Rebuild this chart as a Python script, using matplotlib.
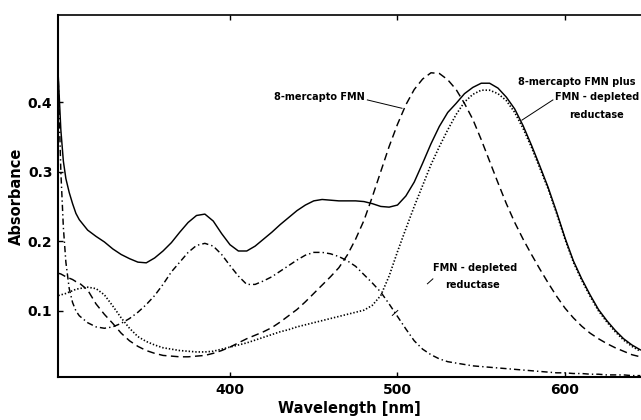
import matplotlib
matplotlib.use("Agg")
import matplotlib.pyplot as plt

plt.rcParams["font.family"] = ["DejaVu Sans"]
plt.rcParams["font.weight"] = "bold"
plt.rcParams["lines.scale_dashes"] = False

# Wavelength grid (nm)
wavelength = [297.5, 299, 300.5, 302, 304, 306, 308, 310, 315, 320, 325, 330, 335,
              340, 345, 350, 355, 360, 365, 370, 375, 380, 385, 390, 395, 400,
              405, 410, 415, 420, 425, 430, 435, 440, 445, 450, 455, 460, 465,
              470, 475, 480, 485, 490, 495, 500, 505, 510, 515, 520, 525, 530,
              535, 540, 545, 550, 555, 560, 565, 570, 575, 580, 585, 590, 595,
              600, 605, 610, 615, 620, 625, 630, 635, 640, 645]

# 8-mercapto FMN plus FMN-depleted reductase (solid)
abs_complex = [0.435, 0.360, 0.315, 0.290, 0.270, 0.254, 0.240, 0.231, 0.216, 0.207,
               0.199, 0.189, 0.181, 0.175, 0.170, 0.169, 0.176, 0.186, 0.198, 0.213,
               0.227, 0.237, 0.239, 0.229, 0.211, 0.195, 0.186, 0.186, 0.193, 0.203,
               0.213, 0.224, 0.234, 0.244, 0.252, 0.258, 0.260, 0.259, 0.258, 0.258,
               0.258, 0.257, 0.254, 0.250, 0.249, 0.252, 0.265, 0.285, 0.312, 0.340,
               0.365, 0.385, 0.398, 0.412, 0.421, 0.427, 0.427, 0.420, 0.407, 0.390,
               0.366, 0.338, 0.308, 0.277, 0.242, 0.205, 0.172, 0.146, 0.123, 0.102,
               0.086, 0.072, 0.060, 0.051, 0.044]

# 8-mercapto FMN (dashed)
abs_mercapto = [0.154, 0.153, 0.151, 0.149, 0.147, 0.145, 0.142, 0.140, 0.130, 0.110,
                0.095, 0.082, 0.068, 0.057, 0.049, 0.043, 0.039, 0.036, 0.035, 0.034,
                0.034, 0.035, 0.036, 0.039, 0.043, 0.048, 0.054, 0.060, 0.065, 0.070,
                0.076, 0.084, 0.093, 0.102, 0.113, 0.125, 0.137, 0.149, 0.162, 0.180,
                0.203, 0.230, 0.264, 0.300, 0.336, 0.368, 0.396, 0.418, 0.433, 0.442,
                0.441, 0.432, 0.418, 0.398, 0.375, 0.346, 0.315, 0.284, 0.254, 0.227,
                0.203, 0.181, 0.160, 0.140, 0.121, 0.104, 0.090, 0.078, 0.068, 0.060,
                0.053, 0.047, 0.042, 0.037, 0.034]

# FMN-depleted reductase (dash-dot)
abs_reductase = [0.430, 0.300, 0.220, 0.170, 0.132, 0.112, 0.100, 0.093, 0.083, 0.077,
                 0.075, 0.077, 0.082, 0.089, 0.098, 0.109, 0.122, 0.138, 0.156, 0.170,
                 0.184, 0.194, 0.197, 0.193, 0.181, 0.165, 0.150, 0.138, 0.138, 0.143,
                 0.149, 0.157, 0.165, 0.173, 0.180, 0.184, 0.184, 0.182, 0.178, 0.172,
                 0.164, 0.152, 0.140, 0.127, 0.110, 0.092, 0.074, 0.057, 0.045, 0.037,
                 0.031, 0.027, 0.025, 0.023, 0.021, 0.020, 0.019, 0.018, 0.017, 0.016,
                 0.015, 0.014, 0.013, 0.012, 0.011, 0.011, 0.010, 0.010, 0.009, 0.009,
                 0.008, 0.008, 0.008, 0.007, 0.007]

# Unlabelled dotted spectrum
abs_dotted = [0.122, 0.123, 0.124, 0.125, 0.127, 0.129, 0.131, 0.132, 0.134, 0.132,
              0.123, 0.107, 0.090, 0.075, 0.063, 0.056, 0.051, 0.047, 0.045, 0.043,
              0.042, 0.041, 0.041, 0.042, 0.045, 0.048, 0.051, 0.054, 0.058, 0.062,
              0.066, 0.070, 0.073, 0.077, 0.080, 0.083, 0.086, 0.089, 0.092, 0.095,
              0.098, 0.101, 0.108, 0.122, 0.150, 0.185, 0.218, 0.250, 0.280, 0.310,
              0.336, 0.360, 0.382, 0.400, 0.411, 0.417, 0.417, 0.412, 0.402, 0.385,
              0.362, 0.335, 0.305, 0.275, 0.240, 0.203, 0.170, 0.144, 0.121, 0.100,
              0.084, 0.070, 0.058, 0.049, 0.042]

x_ticks = [400, 500, 600]
y_ticks = [0.1, 0.2, 0.3, 0.4]

fig = plt.figure(figsize=(6.41, 4.20), dpi=100)
ax = fig.add_axes([58 / 641, 43 / 420, 1 - 58 / 641, 362 / 420])

lw = 1.05
ax.plot(wavelength, abs_complex, color="black", lw=lw, linestyle="-")
ax.plot(wavelength, abs_mercapto, color="black", lw=lw, dashes=(5.5, 3.2))
ax.plot(wavelength, abs_reductase, color="black", lw=lw, dashes=(4.5, 2.2, 1.0, 2.2))
ax.plot(wavelength, abs_dotted, color="black", lw=1.2, dashes=(1.0, 1.4))

# Leader lines from labels to curves
ax.plot([482.0, 502.7], [0.403, 0.391], color="black", lw=0.7)
ax.plot([574.3, 592.8], [0.374, 0.403], color="black", lw=0.7)
ax.plot([496.7, 523.0], [0.093, 0.150], color="black", lw=0.7, dashes=(6, 28))

lab = dict(fontsize=7, fontweight="bold", color="black")
ax.text(480.6, 0.407, "8-mercapto FMN", ha="right", va="center", **lab)
ax.text(607.0, 0.429, "8-mercapto FMN plus", ha="center", va="center", **lab)
ax.text(619.0, 0.407, "FMN - depleted", ha="center", va="center", **lab)
ax.text(619.0, 0.381, "reductase", ha="center", va="center", **lab)
ax.text(546.3, 0.162, "FMN - depleted", ha="center", va="center", **lab)
ax.text(544.5, 0.137, "reductase", ha="center", va="center", **lab)

ax.set_xlim(297.3, 645.4)
ax.set_ylim(0.005, 0.525)
ax.set_xticks(x_ticks)
ax.set_yticks(y_ticks)
ax.set_xticklabels([str(v) for v in x_ticks])
ax.set_yticklabels([f"{v:.1f}" for v in y_ticks])

ax.spines["right"].set_visible(False)
for side in ("left", "bottom"):
    ax.spines[side].set_linewidth(1.5)
ax.spines["top"].set_linewidth(1.2)

ax.tick_params(axis="x", which="both", direction="in", length=3.5, width=1.0,
               top=True, bottom=True, labelsize=10, pad=4)
ax.tick_params(axis="y", which="both", direction="in", length=3.5, width=1.0,
               left=True, right=False, labelsize=10, pad=4)
for t in ax.get_xticklabels() + ax.get_yticklabels():
    t.set_fontweight("bold")

ax.set_xlabel("Wavelength [nm]", fontsize=10.5, fontweight="bold", labelpad=3)
ax.set_ylabel("Absorbance", fontsize=10.5, fontweight="bold", labelpad=3)

fig.savefig("out.png", dpi=100)
